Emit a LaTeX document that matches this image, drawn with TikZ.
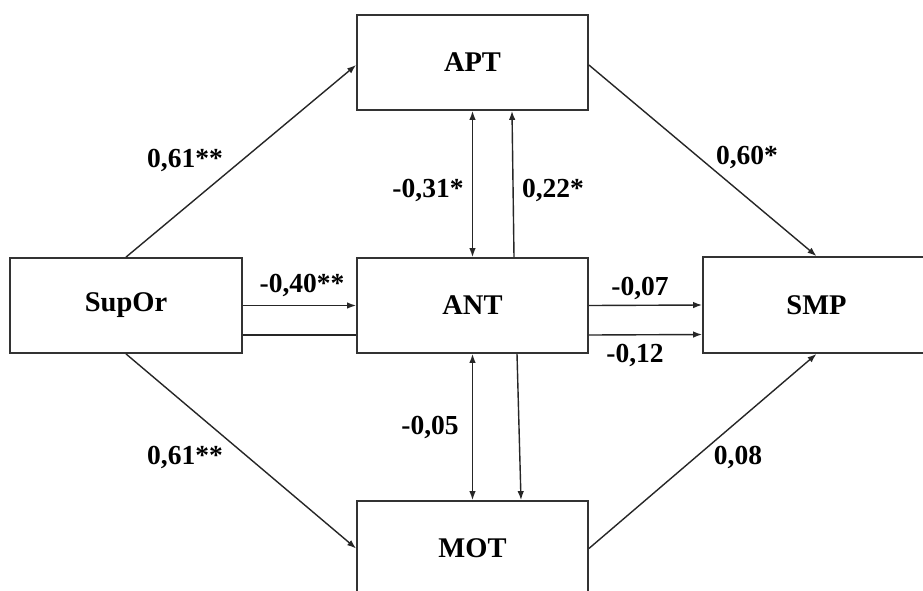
\documentclass[tikz,border=0pt]{standalone}
\usepackage{fontspec}
\setmainfont{Liberation Serif}
\usetikzlibrary{arrows.meta}
\begin{document}
\begin{tikzpicture}[x=1pt,y=-1pt,
  box/.style={draw=black!80,line width=1.8pt,fill=white,rectangle,inner sep=0pt,
    font=\fontsize{28.5}{31}\selectfont\bfseries},
  conn/.style={line width=1.4pt,draw=black!85},
  arr/.style={conn,-{Latex[length=9pt,width=6.5pt]}},
  darr/.style={conn,{Latex[length=9pt,width=6.5pt]}-{Latex[length=9pt,width=6.5pt]}},
  lab/.style={inner sep=0pt,font=\fontsize{27.5}{30}\selectfont\bfseries}]
\useasboundingbox (0,0) rectangle (923,590);
\clip (0,0) rectangle (923,590);
\fill[white] (0,0) rectangle (923,590);
\node[box,minimum width=231pt,minimum height=95pt] (APT) at (472.5,62.5) {APT};
\node[box,minimum width=232pt,minimum height=95pt] (SupOr) at (126,305.5) {SupOr};
\node[box,minimum width=231pt,minimum height=95pt] (ANT) at (472.5,305.5) {ANT};
\node[box,minimum width=227pt,minimum height=96pt] (SMP) at (816.5,305) {SMP};
\node[box,minimum width=231pt,minimum height=95pt] (MOT) at (472.5,548.5) {MOT};
% connectors
\draw[arr] (SupOr.north) -- ([yshift=-2.5pt]APT.west);
\draw[arr] (SupOr.south) -- (MOT.west);
\draw[arr] (SupOr.east) -- (ANT.west);
\draw[conn] ([yshift=-29.5pt]SupOr.east) -- ([yshift=-29.5pt]ANT.west);
\draw[arr] (ANT.east) -- (SMP.west);
\draw[arr] ([yshift=-29.5pt]ANT.east) -- ([yshift=-29.5pt]SMP.west);
\draw[darr] (APT.south) -- (ANT.north);
\draw[arr] ([xshift=41.5pt]ANT.north) -- ([xshift=39.5pt]APT.south);
\draw[darr] (ANT.south) -- (MOT.north);
\draw[arr] ([xshift=44.5pt]ANT.south) -- ([xshift=48.5pt]MOT.north);
\draw[arr] ([yshift=-2.5pt]APT.east) -- (SMP.north);
\draw[arr] (MOT.east) -- (SMP.south);
% labels
\node[lab] (l1) at (185,160) {0,61**};
\node[lab] (l2) at (185,457) {0,61**};
\node[lab] (l3) at (747,157) {0,60*};
\node[lab] (l4) at (738,457) {0,08};
\node[lab] (l5) at (428,190) {-0,31*};
\node[lab] (l6) at (553,190) {0,22*};
\node[lab] (l7) at (302,285) {-0,40**};
\node[lab] (l8) at (640,288) {-0,07};
\node[lab] (l9) at (635,355) {-0,12};
\node[lab] (l10) at (430,427) {-0,05};
\end{tikzpicture}
\end{document}
